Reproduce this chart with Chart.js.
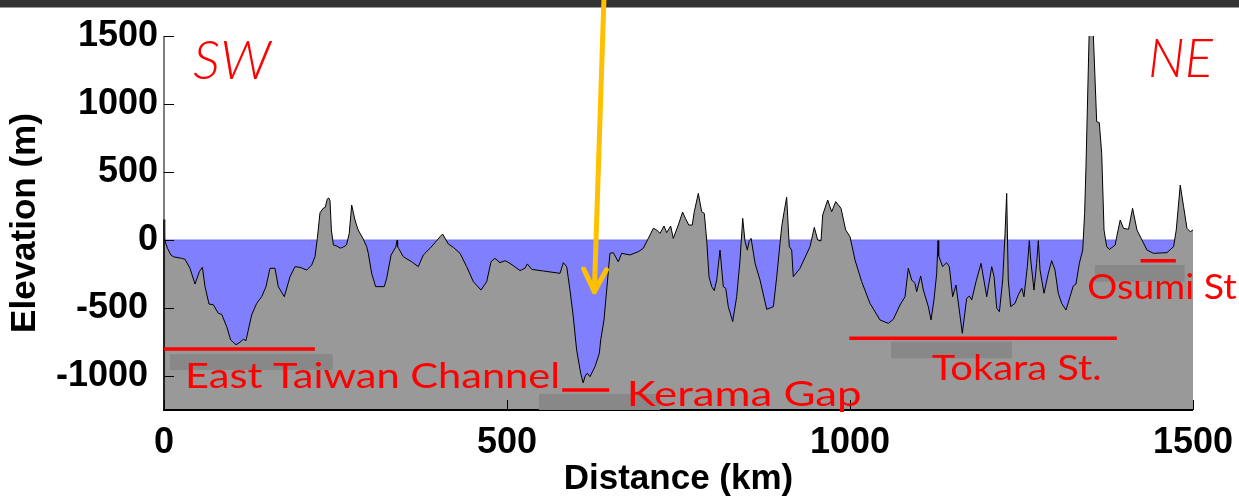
<!DOCTYPE html>
<html><head><meta charset="utf-8">
<script src="https://cdn.jsdelivr.net/npm/chart.js@4.4.0/dist/chart.umd.min.js"></script>
<style>html,body{margin:0;padding:0;background:#fff;overflow:hidden}#wrap{width:1239px;height:500px;position:relative}canvas{display:block}</style>
</head><body><div id="wrap"><canvas id="c" width="1239" height="500"></canvas></div>
<script>
// ---- data ----
const distanceKm = [0,1,5,10,13.6,25.8,30.6,37.9,45.2,51.5,55.9,59.8,65.6,71.9,79.2,84.1,91.4,97.2,105,110.8,115.6,119.5,122.9,127.8,135.1,142.4,148.7,154.5,161.8,166.6,175.4,183.7,191,198.3,208,215.3,220.1,223.5,227.4,232,235,238,240,242,244,247,252,257,262,266,270,273.6,278.4,283,290,295.5,297.8,302.7,308.5,321,324.6,331,337.7,339.8,340.5,342,348.9,361,370.7,378,387.8,395,402.3,406.2,414.4,421.7,431.5,441.2,450.9,462.1,470.4,476.7,482.5,489.8,497.1,504.4,519,526.2,529.6,536,553,577.3,582.1,587,591.8,596.6,601.5,607.4,611,614,617,621,628.3,634.6,636.6,641.4,645.3,650.1,654.9,662.2,667.2,679.3,691.4,698.7,706,713.3,718.2,723,728.9,732.8,738.6,742.4,749.7,756,760,765,770,773,778.9,783.8,787.6,791.1,794.5,798.4,802.2,805.7,810.5,815.3,818.8,822.6,829,834.8,839.7,843.6,847,850.4,852.9,855.8,861.6,868.8,878.6,888.3,893.2,900.4,903.8,907.7,911.5,915,917.3,927.1,941.7,948,952.9,957.7,960.2,967.5,973.3,979.2,986.9,993.7,1000,1007.3,1017,1029.2,1043.7,1055.9,1063.2,1072.9,1080.2,1085,1089.9,1094.7,1097.2,1103,1106.9,1114.2,1118.1,1122.4,1126.4,1128.3,1129.3,1135,1140.8,1144.8,1149.6,1154.5,1159.3,1163.7,1170.1,1174,1177.4,1183.7,1191,1199.3,1206.6,1210,1213.9,1217.8,1222.6,1226,1228.4,1230.7,1234.2,1240.5,1245.3,1250.3,1253.6,1258.5,1261.4,1263.4,1268.2,1272.1,1274.5,1277,1282.8,1289.1,1294,1298.8,1303.6,1308.6,1314.9,1320.7,1325.5,1329.4,1334.3,1339.2,1342,1344,1349,1354,1359.6,1363.4,1366.9,1370.3,1374.2,1378,1386.6,1388.8,1393.9,1398.7,1406,1411.9,1418.3,1425.6,1432.9,1442.5,1462,1471.7,1475.6,1481.4,1486.3,1491.2,1496,1500];
const elevationM = [150,0,-60,-110,-123,-135,-142,-208,-324,-233,-201,-343,-471,-476,-539,-547,-637,-735,-770,-752,-730,-740,-662,-551,-466,-417,-343,-208,-208,-343,-417,-270,-196,-201,-221,-184,-123,12,200,233,240,300,310,290,74,-37,-45,-60,-50,-37,49,257,147,74,12,-49,-98,-245,-343,-343,-282,-110,-54,-2,-50,-62,-123,-160,-196,-110,-61,-20,24,44,-29,-54,-98,-196,-306,-368,-306,-160,-135,-167,-152,-172,-225,-208,-176,-216,-228,-245,-167,-196,-368,-564,-809,-980,-1050,-1000,-980,-1005,-931,-833,-735,-588,-368,-98,-93,-160,-98,-110,-86,-61,12,86,74,49,103,54,103,12,110,205,160,110,110,208,343,208,196,0,-270,-343,-373,-294,-74,-343,-355,-490,-600,-417,-147,159,-12,-74,-12,12,-172,-294,-510,-490,-270,98,203,314,-49,-74,-270,-208,-49,93,0,-7,184,294,208,282,233,74,24,-147,-306,-466,-588,-613,-583,-478,-417,-208,-294,-319,-380,-265,-368,-490,-588,-441,-245,-5,-118,-196,-167,-196,-417,-331,-515,-686,-429,-412,-441,-306,-172,-417,-196,-270,-502,-527,-294,49,343,-294,-490,-466,-404,-355,-417,-196,-5,-147,-368,-172,-5,-221,-392,-245,-152,-221,-392,-466,-515,-417,-338,-324,-172,-74,196,539,1600,1600,870,863,637,74,-49,-70,-37,24,147,86,79,233,74,0,-74,-98,-93,-49,74,404,245,86,61,74];
const seaLevelKm = [0, 1500];
const seaLevelM = [0, 0];
const xTickValues = [0, 500, 1000, 1500];
const yTickValues = [-1000, -500, 0, 500, 1000, 1500];
const straitNames = ['East Taiwan Channel', 'Kerama Gap', 'Tokara St.', 'Osumi St'];
const sillStartKm = [0, 580.5, 999, 1423.6];
const sillEndKm = [220, 649, 1389, 1475];
const sillDepthM = [-801, -1103, -723, -152];
const directionNames = ['SW', 'NE'];

// ---- layout of annotations (data units) ----
const labelBoxes = [
  {x0: 8.7, x1: 245.9, y0: -838, y1: -956},
  {x0: 546.6, x1: 723, y0: -1132, y1: -1250},
  {x0: 1059.8, x1: 1236.2, y0: -748, y1: -870},
  {x0: 1357, x1: 1488, y0: -184, y1: -307}
];
const labelPlaces = [
  {x0: 30.6, x1: 577.3, base: -1088},
  {x0: 674.5, x1: 1016.9, base: -1221},
  {x0: 1119, x1: 1366.9, base: -1029},
  {x0: 1346, x1: 1563.8, base: -434}
];
const directionPlaces = [
  {x0: 42.2, x1: 155.5, base: 1184},
  {x0: 1434.4, x1: 1529.2, base: 1198}
];
const arrowFrom = {x: 641.5, y: 1800};
const arrowTo = {x: 627.3, y: -380};

function stretchedText(ctx, text, xl, xr, base, font, color) {
  ctx.save();
  ctx.font = font;
  const w = ctx.measureText(text).width;
  const sx = (xr - xl) / w;
  ctx.translate(xl, base);
  ctx.scale(sx, 1);
  ctx.fillStyle = color;
  ctx.textAlign = 'left';
  ctx.textBaseline = 'alphabetic';
  ctx.fillText(text, 0, 0);
  ctx.restore();
}
function seg(ctx, x1, y1, x2, y2) { ctx.beginPath(); ctx.moveTo(x1, y1); ctx.lineTo(x2, y2); ctx.stroke(); }

const decor = {
  id: 'decor',
  beforeDraw(chart) {
    const ctx = chart.ctx;
    ctx.save();
    ctx.fillStyle = '#ffffff';
    ctx.fillRect(0, 0, chart.width, chart.height);
    ctx.fillStyle = '#333333';
    ctx.fillRect(0, 0, chart.width, 7.5);
    ctx.restore();
  },
  afterDatasetsDraw(chart) {
    const {ctx, chartArea: {left, right, top, bottom}, scales: {x, y}} = chart;
    ctx.save();
    ctx.strokeStyle = '#808080'; ctx.lineWidth = 2;
    seg(ctx, left, top, left, bottom);
    ctx.strokeStyle = '#000'; ctx.lineWidth = 1.5;
    seg(ctx, left, y.getPixelForValue(elevationM[0]), left, bottom);
    ctx.lineWidth = 2;
    seg(ctx, left - 1, bottom, right, bottom);
    ctx.lineWidth = 1;
    yTickValues.forEach(v => { const py = Math.round(y.getPixelForValue(v)) + 0.5; seg(ctx, left, py, left + 10, py); });
    xTickValues.forEach(v => { const px = Math.round(x.getPixelForValue(v)) + 0.5; seg(ctx, px, bottom, px, bottom - 10); });
    ctx.restore();
  },
  afterDraw(chart) {
    const {ctx, scales: {x, y}} = chart;
    ctx.save();
    ctx.fillStyle = '#888888';
    labelBoxes.forEach(b => {
      const px0 = x.getPixelForValue(b.x0), px1 = x.getPixelForValue(b.x1);
      const py0 = y.getPixelForValue(b.y0), py1 = y.getPixelForValue(b.y1);
      ctx.fillRect(px0, py0, px1 - px0, py1 - py0);
    });
    ctx.strokeStyle = '#ff0000'; ctx.lineWidth = 3.5;
    sillDepthM.forEach((d, i) => {
      const py = y.getPixelForValue(d);
      seg(ctx, x.getPixelForValue(sillStartKm[i]), py, x.getPixelForValue(sillEndKm[i]), py);
    });
    straitNames.forEach((t, i) => {
      const p = labelPlaces[i];
      stretchedText(ctx, t, x.getPixelForValue(p.x0), x.getPixelForValue(p.x1), y.getPixelForValue(p.base), '400 35px Lato, "Open Sans", sans-serif', '#ff0000');
    });
    directionNames.forEach((t, i) => {
      const p = directionPlaces[i];
      stretchedText(ctx, t, x.getPixelForValue(p.x0), x.getPixelForValue(p.x1), y.getPixelForValue(p.base), 'italic 300 54px Lato, "Open Sans", sans-serif', '#ff0000');
    });
    const ax0 = x.getPixelForValue(arrowFrom.x), ay0 = y.getPixelForValue(arrowFrom.y);
    const ax1 = x.getPixelForValue(arrowTo.x), ay1 = y.getPixelForValue(arrowTo.y);
    ctx.strokeStyle = '#ffc000'; ctx.lineWidth = 5; ctx.lineCap = 'round'; ctx.lineJoin = 'round';
    seg(ctx, ax0, ay0, ax1, ay1);
    const ang = Math.atan2(ay0 - ay1, ax0 - ax1);
    const hl = 25, ha = 27 * Math.PI / 180;
    ctx.beginPath();
    ctx.moveTo(ax1 + hl * Math.cos(ang + ha), ay1 + hl * Math.sin(ang + ha));
    ctx.lineTo(ax1, ay1);
    ctx.lineTo(ax1 + hl * Math.cos(ang - ha), ay1 + hl * Math.sin(ang - ha));
    ctx.stroke();
    ctx.restore();
  }
};

const tickFont = {family: '"Liberation Sans", Arial, sans-serif', weight: 'bold', size: 36};

new Chart(document.getElementById('c').getContext('2d'), {
  type: 'line',
  data: {
    datasets: [
      {
        label: 'Elevation',
        data: distanceKm.map((d, i) => ({x: d, y: elevationM[i]})),
        borderColor: '#000000', borderWidth: 1, backgroundColor: '#999999',
        fill: 'start', pointRadius: 0, tension: 0, order: 1
      },
      {
        label: 'Sea level',
        data: seaLevelKm.map((d, i) => ({x: d, y: seaLevelM[i]})),
        borderColor: '#7070e6', borderWidth: 1, backgroundColor: '#8080ff',
        fill: 'start', pointRadius: 0, tension: 0, order: 2
      }
    ]
  },
  options: {
    responsive: false, animation: false, devicePixelRatio: 1,
    layout: {padding: {top: 36, right: 46, left: 0, bottom: 0}},
    plugins: {legend: {display: false}, tooltip: {enabled: false}},
    scales: {
      x: {
        type: 'linear', min: 0, max: 1500,
        afterBuildTicks: s => { s.ticks = xTickValues.map(v => ({value: v})); },
        afterFit: s => { s.height = 90; s.paddingLeft = 0; s.paddingRight = 0; },
        grid: {display: false, drawTicks: false}, border: {display: false},
        ticks: {font: tickFont, color: '#000', padding: 11, maxRotation: 0, autoSkip: false, callback: v => String(v)},
        title: {display: true, text: 'Distance (km)', color: '#000', font: {family: '"Liberation Sans", Arial, sans-serif', weight: 'bold', size: 35}, padding: {top: 0, bottom: 0}}
      },
      y: {
        type: 'linear', min: -1250, max: 1500,
        afterBuildTicks: s => { s.ticks = yTickValues.map(v => ({value: v})); },
        afterFit: s => { s.width = 164; s.paddingTop = 0; s.paddingBottom = 0; },
        grid: {display: false, drawTicks: false}, border: {display: false},
        ticks: {font: tickFont, color: '#000', padding: 6, autoSkip: false, callback: v => (v < 0 ? String(v) + ' ' : String(v))},
        title: {display: true, text: 'Elevation (m)', color: '#000', font: {family: '"Liberation Sans", Arial, sans-serif', weight: 'bold', size: 35}, padding: {top: 4, bottom: 0}}
      }
    }
  },
  plugins: [decor]
});
</script>
</body></html>
